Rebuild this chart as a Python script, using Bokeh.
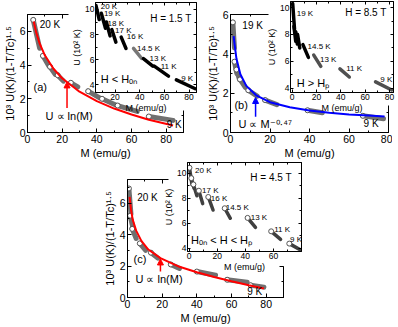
from bokeh.plotting import figure
from bokeh.models import (ColumnDataSource, LinearAxis, SingleIntervalTicker, FixedTicker,
                          Range1d, Arrow, NormalHead, Column)
from bokeh.core.properties import value
from bokeh.embed import file_html
from bokeh.resources import INLINE

FONT = "Liberation Sans"

# ---------------- Panel (a): H = 1.5 T ----------------
temps_a = ["20 K", "19 K", "18 K", "17 K", "16 K", "14.5 K", "13 K", "11 K", "9 K"]
a_main_m0 = [3.3, 8.9, 13.0, 17.4, 25.0, 35.0, 43.0, 52.0, 70.0]
a_main_m1 = [7.0, 12.3, 16.0, 20.7, 29.0, 41.6, 50.6, 63.3, 84.0]
a_main_y0 = [6.68, 4.55, 3.90, 3.40, 2.95, 2.45, 2.00, 1.60, 0.95]
a_main_y1 = [5.00, 3.95, 3.45, 3.05, 2.70, 2.05, 1.65, 1.25, 0.72]
a_fit_m = [3.6, 5, 7, 10, 15, 20, 30, 40, 50, 60, 70, 84]
a_fit_y = [6.58, 5.94, 5.28, 4.58, 3.78, 3.22, 2.42, 1.86, 1.42, 1.07, 0.76, 0.41]
a_ins_m0 = [4.6, 8.9, 13.0, 17.4, 25.0, 35.0, 43.0, 51.8, 69.7]
a_ins_m1 = [7.2, 12.3, 16.0, 20.7, 28.9, 41.6, 50.6, 63.3, 85.0]
a_ins_u0 = [10.3, 9.7, 9.0, 8.4, 7.8, 6.9, 6.1, 5.5, 4.4]
a_ins_u1 = [9.2, 8.5, 7.9, 7.4, 6.9, 6.1, 5.5, 4.7, 3.7]

# ---------------- Panel (b): H = 8.5 T ----------------
temps_b = ["19 K", "18 K", "17 K", "16 K", "14.5 K", "13 K", "11 K", "9 K"]
b_main_m0 = [1.2, 2.0, 3.0, 4.8, 9.0, 17.5, 39.0, 67.0]
b_main_m1 = [2.0, 3.2, 4.5, 7.5, 13.5, 23.5, 46.5, 77.5]
b_main_y0 = [5.60, 3.60, 3.20, 2.70, 2.15, 1.65, 1.13, 0.85]
b_main_y1 = [4.30, 3.00, 2.70, 2.30, 1.85, 1.42, 1.00, 0.70]
b_fit_m = [1.6, 2, 3, 5, 8, 13, 20, 30, 40, 50, 60, 70, 78]
b_fit_y = [4.90, 4.55, 3.76, 2.96, 2.37, 1.89, 1.54, 1.28, 1.12, 1.00, 0.92, 0.86, 0.81]
b_ins_m0 = [0.5, 1.5, 3.0, 4.5, 8.9, 17.8, 39.3, 68.6]
b_ins_m1 = [2.0, 3.0, 4.3, 6.3, 13.4, 23.6, 47.0, 81.8]
b_ins_u0 = [10.3, 8.6, 8.2, 8.0, 7.25, 6.47, 5.44, 4.48]
b_ins_u1 = [8.4, 7.5, 7.3, 7.0, 6.30, 5.63, 4.84, 3.88]

# ---------------- Panel (c): H = 4.5 T ----------------
temps_c = ["20 K", "19 K", "18 K", "17 K", "16 K", "14.5 K", "13 K", "11 K", "9 K"]
c_main_m0 = [0.8, 1.5, 2.7, 7.1, 13.5, 25.0, 40.0, 57.5, 71.0]
c_main_m1 = [2.0, 3.0, 5.0, 10.5, 17.5, 30.0, 50.8, 69.0, 78.7]
c_main_y0 = [6.93, 5.20, 4.36, 3.44, 2.85, 2.10, 1.65, 1.13, 0.78]
c_main_y1 = [5.30, 4.50, 3.75, 3.00, 2.50, 1.85, 1.41, 0.97, 0.66]
c_fit_m = [1.2, 2, 3, 5, 8, 12, 19, 30, 40, 50, 60, 70, 78.7]
c_fit_y = [6.40, 5.60, 4.95, 4.25, 3.60, 3.05, 2.50, 1.95, 1.60, 1.30, 1.03, 0.78, 0.57]
c_ins_m0 = [0.2, 1.5, 3.0, 6.9, 13.6, 25.3, 41.6, 58.4, 71.3]
c_ins_m1 = [2.0, 3.5, 5.5, 9.6, 17.0, 29.3, 47.2, 65.1, 80.0]
c_ins_u0 = [10.43, 9.6, 9.1, 8.6, 8.1, 7.2, 6.43, 5.36, 4.38]
c_ins_u1 = [9.1, 8.8, 8.2, 7.57, 7.06, 6.4, 5.67, 4.72, 3.83]

YLABEL = "10³ U(K)/(1-T/Tc)¹·⁵"
XLABEL = "M (emu/g)"
ILABEL = "U (10² K)"

# ---------------- helpers ----------------
def new_fig(xr, yr, fw, fh, bl, br, bt, bb, left, top):
    w = bl + fw + br
    h = bt + fh + bb
    p = figure(x_range=Range1d(*xr), y_range=Range1d(*yr), width=w, height=h,
               min_border_left=bl, min_border_right=br, min_border_top=bt, min_border_bottom=bb,
               output_backend="svg", toolbar_location=None,
               styles={"position": "absolute", "left": f"{left}px", "top": f"{top}px",
                       "width": f"{w}px", "height": f"{h}px"})
    p.xgrid.visible = False
    p.ygrid.visible = False
    p.background_fill_color = "white"
    p.border_fill_color = None
    return p


def mirror_axis(t, bounds):
    return LinearAxis(ticker=t, major_label_text_font_size="1px", major_label_text_alpha=0,
                      major_label_standoff=0, bounds=bounds)


def style_axes(p, xt, yt, xlabel, ylabel, tick_fs, lab_fs, tin, tmin, lstd, astd,
               top_bounds="auto", right_bounds="auto"):
    for ax, lab, t in ((p.xaxis[0], xlabel, xt), (p.yaxis[0], ylabel, yt)):
        ax.ticker = t
        ax.axis_label = lab
        ax.axis_label_text_font = FONT
        ax.axis_label_text_font_size = lab_fs
        ax.axis_label_text_font_style = "normal"
        ax.axis_label_standoff = astd
        ax.major_label_text_font = FONT
        ax.major_label_text_font_size = tick_fs
        ax.major_label_standoff = lstd
        ax.major_label_text_color = "black"
    p.add_layout(mirror_axis(xt, top_bounds), "above")
    p.add_layout(mirror_axis(yt, right_bounds), "right")
    for ax in p.axis:
        ax.major_tick_in = tin
        ax.major_tick_out = 0
        ax.minor_tick_in = tmin
        ax.minor_tick_out = 0
        ax.axis_line_color = "black"
        ax.major_tick_line_color = "black"
        ax.minor_tick_line_color = "black"
        ax.axis_label_text_color = "black"


def draw_segments(p, m0, y0, m1, y1, colors, width, circles):
    src = ColumnDataSource(dict(x0=m0, y0=y0, x1=m1, y1=y1, c=colors))
    p.segment("x0", "y0", "x1", "y1", source=src, line_color="c", line_width=width, line_cap="round")
    if circles:
        p.scatter("x0", "y0", source=src, marker="circle", size=5, fill_color="white",
                  line_color="#555555", line_width=1)


def draw_labels(p, xs, ys, texts, fs, align="left"):
    src = ColumnDataSource(dict(x=xs, y=ys, t=texts))
    p.text("x", "y", text="t", source=src, text_font=value(FONT), text_font_size=fs,
           text_align=align, text_baseline="middle", text_color="black")


def add_arrow(p, x0, y0, x1, y1, color):
    p.add_layout(Arrow(end=NormalHead(size=6, fill_color=color, line_color=color),
                       x_start=x0, y_start=y0, x_end=x1, y_end=y1,
                       line_color=color, line_width=1.5))


GRAY = "#707070"

def main_panel(xr, yr, fw, fh, bb, left, top, top_b, right_b, m0, y0, m1, y1, fit_m, fit_y, fit_color):
    p = new_fig(xr, yr, fw, fh, 27, 4, 4, bb, left, top)
    p.outline_line_color = None
    style_axes(p, SingleIntervalTicker(interval=20, num_minor_ticks=2),
               SingleIntervalTicker(interval=2, num_minor_ticks=2),
               XLABEL, YLABEL, "10.5px", "11px", 4, 2, 2, 1, top_b, right_b)
    draw_segments(p, m0, y0, m1, y1, [GRAY] * len(m0), 5, True)
    p.line(fit_m, fit_y, line_color=fit_color, line_width=2)
    return p


def inset_panel(xr, yr, fw, fh, bl, br, bt, bb, left, top, xt):
    p = new_fig(xr, yr, fw, fh, bl, br, bt, bb, left, top)
    p.outline_line_color = "black"
    p.outline_line_alpha = 1.0
    style_axes(p, xt, SingleIntervalTicker(interval=2, num_minor_ticks=2),
               XLABEL, ILABEL, "8.5px", "9px", 3, 2, 1, 0)
    return p

# ---------------- panel (a) ----------------
main_a = main_panel((0, 90), (0, 7), 156, 121, 26, 0, 10, (0, 23.5), (0, 1.3),
                    a_main_m0, a_main_y0, a_main_m1, a_main_y1, a_fit_m, a_fit_y, "red")
draw_labels(main_a, [7.0], [6.4], ["20 K"], "10px")
draw_labels(main_a, [89.0], [0.48], ["9 K"], "10px", "right")
draw_labels(main_a, [3.5], [2.67], ["(a)"], "11px")
draw_labels(main_a, [10.4], [1.0], ["U ∝ ln(M)"], "11px")
add_arrow(main_a, 22.8, 1.45, 22.8, 3.0, "red")

ins_a = inset_panel((4.2, 86), (3.4, 10.55), 106, 93, 24, 2, 2, 20, 68, 0,
                    SingleIntervalTicker(interval=20, num_minor_ticks=2))
draw_segments(ins_a, a_ins_m0, a_ins_u0, a_ins_m1, a_ins_u1,
              ["black"] * 5 + ["#777777"] + ["black"] * 3, 3.5, False)
draw_labels(ins_a, [8.4, 11, 14, 20, 29.6, 37.8, 48, 57, 73.6],
            [10.25, 9.64, 8.92, 8.35, 7.83, 6.9, 6.13, 5.44, 4.54], temps_a, "8px")
draw_labels(ins_a, [82], [9.3], ["H = 1.5 T"], "10px", "right")
draw_labels(ins_a, [8.4], [4.5], ["H < Hₒₙ"], "11px")

# ---------------- panel (b) ----------------
main_b = main_panel((0, 80), (0, 6), 158, 121, 26, 203, 10, (0, 19.2), (0, 1.35),
                    b_main_m0, b_main_y0, b_main_m1, b_main_y1, b_fit_m, b_fit_y, "blue")
draw_labels(main_b, [6.0], [5.45], ["19 K"], "10px")
draw_labels(main_b, [75.0], [0.45], ["9 K"], "10px", "right")
draw_labels(main_b, [2.0], [1.38], ["(b)"], "11px")
draw_labels(main_b, [4.0], [0.41], ["U ∝ M⁻⁰·⁴⁷"], "11px")
add_arrow(main_b, 12.7, 0.8, 12.7, 1.78, "blue")

ins_b = inset_panel((-1.3, 83.3), (3.69, 10.45), 111, 94, 22, 1, 1, 20, 263, 0,
                    SingleIntervalTicker(interval=20, num_minor_ticks=2))
draw_segments(ins_b, b_ins_m0, b_ins_u0, b_ins_m1, b_ins_u1,
              ["black"] * 5 + ["#505050"] * 3, 3.5, False)
draw_labels(ins_b, [3.8, 12.7, 22.9, 44.4, 72.4], [9.57, 7.12, 6.14, 5.44, 4.65],
            ["19 K", "14.5 K", "13 K", "11 K", "9 K"], "8px")
draw_labels(ins_b, [77.6], [9.6], ["H = 8.5 T"], "10px", "right")
draw_labels(ins_b, [3.8], [4.4], ["H > Hₚ"], "11px")

# ---------------- panel (c) ----------------
main_c = main_panel((0, 90), (0, 7.5), 156, 122, 25, 100, 175, (0, 23.5), (0, 2.0),
                    c_main_m0, c_main_y0, c_main_m1, c_main_y1, c_fit_m, c_fit_y, "red")
draw_labels(main_c, [5.6], [6.35], ["20 K"], "10px")
draw_labels(main_c, [77.7], [0.37], ["9 K"], "10px", "right")
draw_labels(main_c, [3.5], [2.42], ["(c)"], "11px")
draw_labels(main_c, [4.6], [1.19], ["U ∝ ln(M)"], "11px")
add_arrow(main_c, 19.0, 1.65, 19.0, 2.45, "red")

ins_c = inset_panel((-1.2, 80), (3.75, 10.85), 121, 92, 22, 2, 2, 20, 160, 160,
                    FixedTicker(ticks=[0, 20, 40, 60], minor_ticks=[10, 30, 50, 70]))
draw_segments(ins_c, c_ins_m0, c_ins_u0, c_ins_m1, c_ins_u1, ["#404040"] * 9, 3.5, True)
draw_labels(ins_c, [4.2, 9.2, 15.4, 26.0, 43.8, 60.6, 71.8],
            [10.18, 8.65, 7.96, 7.27, 6.5, 5.48, 4.72],
            ["20 K", "17 K", "16 K", "14.5 K", "13 K", "11 K", "9 K"], "8px")
draw_labels(ins_c, [73.0], [9.62], ["H = 4.5 T"], "10px", "right")
draw_labels(ins_c, [1.3], [4.64], ["Hₒₙ < H < Hₚ"], "11px")

# ---------------- layout: absolutely placed, overlapping figures ----------------
root = Column(children=[main_a, main_b, main_c, ins_a, ins_b, ins_c],
              styles={"position": "absolute", "left": "0px", "top": "0px",
                      "width": "397px", "height": "326px"})

open("out.html", "w").write(file_html(root, INLINE))
